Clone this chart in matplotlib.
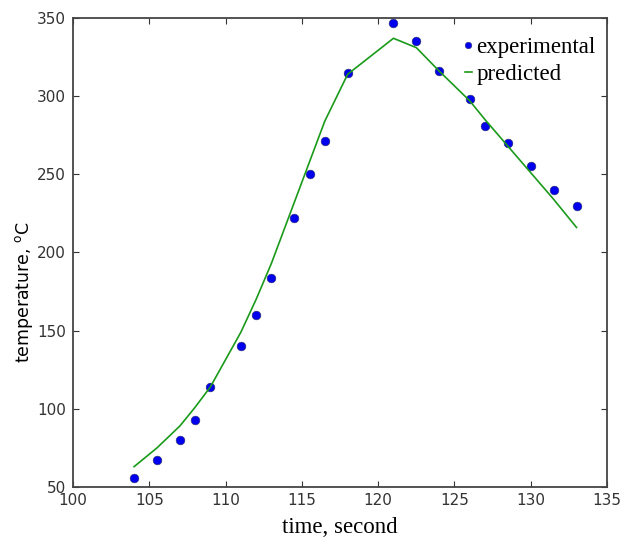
import matplotlib
matplotlib.use('Agg')
import matplotlib.pyplot as plt

# experimental points
exp_time = [104, 105.5, 107, 108, 109, 111, 112, 113, 114.5, 115.5, 116.5,
            118, 121, 122.5, 124, 126, 127, 128.5, 130, 131.5, 133]
exp_temp = [56, 67, 80, 93, 114, 140, 160, 184, 222, 250, 271,
            315, 347, 335, 316, 298, 281, 270, 255, 240, 230]

# model curve
pred_time = [104, 105.5, 107, 108, 109, 111, 112, 113, 114.5, 115.5, 116.5,
             118, 121, 122.5, 124, 126, 127, 128.5, 130, 131.5, 133]
pred_temp = [63, 75, 89, 101, 114, 149, 170, 193, 232, 258, 284,
             314, 337, 331, 316, 297, 285, 268, 251, 234, 216]

fig = plt.figure(figsize=(6.35, 5.41), dpi=100)
ax = fig.add_axes([0.115, 0.0998, 0.841, 0.867])

ax.plot(exp_time, exp_temp, 'o', color='#0000ee', markersize=6.3,
        markeredgecolor='#333366', markeredgewidth=0.4, label='experimental')
ax.plot(pred_time, pred_temp, '-', color='#1a9a1a', linewidth=1.2, label='predicted')

ax.set_xlim(100, 135)
ax.set_ylim(50, 350)
ax.set_xticks(range(100, 136, 5))
ax.set_yticks(range(50, 351, 50))

ax.tick_params(direction='in', top=True, right=True, length=4, width=0.8,
               labelsize=11, labelcolor='#333333', color='#333333')
ax.tick_params(axis='x', pad=4)
ax.tick_params(axis='y', pad=5)
for s in ax.spines.values():
    s.set_color('#444444')
    s.set_linewidth(1.3)

ax.set_xlabel('time, second', family='Liberation Serif', fontsize=16.5, labelpad=7)
ax.set_ylabel('temperature, $^\\mathregular{o}$C', fontsize=12.5)
ax.yaxis.set_label_coords(-0.071, 0.416)

leg = ax.legend(loc='upper right', bbox_to_anchor=(0.996, 0.979), frameon=False,
                numpoints=1, markerscale=0.75, handlelength=0.3, handletextpad=0.2,
                labelspacing=0.25, borderaxespad=0,
                prop={'family': 'Liberation Serif', 'size': 16.5})

fig.savefig('out.png', dpi=100)
